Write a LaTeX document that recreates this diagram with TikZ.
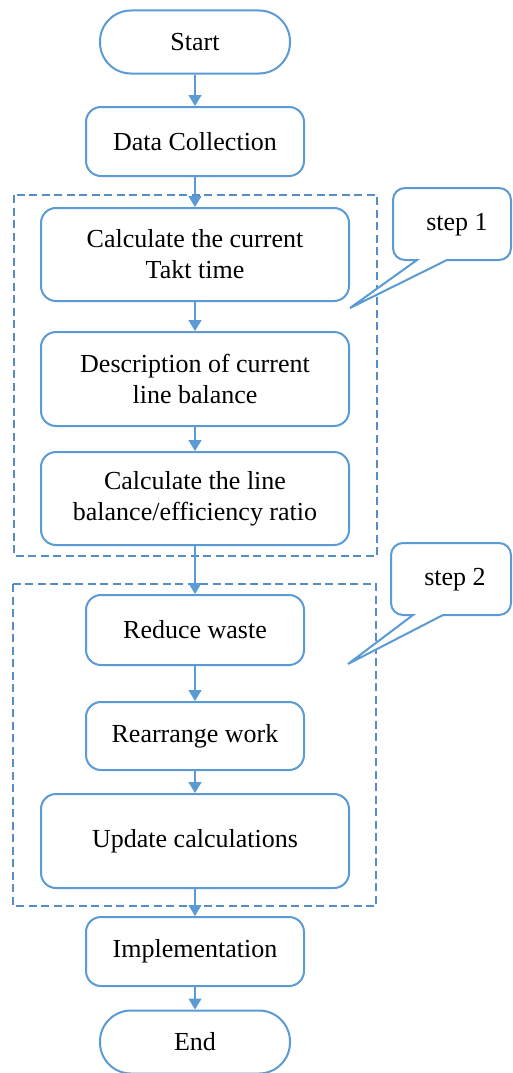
\documentclass[tikz,border=0pt]{standalone}
\usepackage{fontspec}
\setmainfont{Liberation Serif}
\usetikzlibrary{arrows.meta}
\definecolor{boxblue}{RGB}{91,155,213}
\definecolor{dashblue}{RGB}{88,140,196}
\definecolor{linegray}{RGB}{120,150,185}
\begin{document}
\begin{tikzpicture}[x=1pt,y=-1pt,
  font=\fontsize{26}{31}\selectfont,
  proc/.style={draw=boxblue,line width=2pt,rounded corners=15pt,fill=white,align=center,inner sep=0pt},
  term/.style={draw=boxblue,line width=2pt,rounded corners=31pt,fill=white,align=center,inner sep=0pt,minimum width=190pt,minimum height=63pt},
  conn/.style={draw=boxblue,line width=1.3pt,-{Triangle[width=13pt,length=11pt]}},
  group/.style={draw=dashblue,line width=2.3pt,dash pattern=on 8pt off 4.5pt},
  callout/.style={draw=boxblue,line width=2pt,fill=white,line join=miter}]
\useasboundingbox (0,0) rectangle (512,1073);
% dashed groups
\draw[group] (14,195) rectangle (377,556);
\draw[group] (13,584) rectangle (376,906);
% nodes
\node[term] (start) at (195,42) {Start};
\node[proc,minimum width=218pt,minimum height=69pt] (dc) at (195,141.5) {Data Collection};
\node[proc,minimum width=308pt,minimum height=93pt] (takt) at (195,254.5) {Calculate the current\\Takt time};
\node[proc,minimum width=308pt,minimum height=94pt] (desc) at (195,379) {Description of current\\line balance};
\node[proc,minimum width=308pt,minimum height=93pt] (ratio) at (195,498.5) {Calculate the line\\balance/efficiency ratio};
\node[proc,minimum width=218pt,minimum height=70pt] (waste) at (195,630) {Reduce waste};
\node[proc,minimum width=218pt,minimum height=68pt] (rearr) at (195,736) {Rearrange work};
\node[proc,minimum width=308pt,minimum height=94pt] (upd) at (195,841) {Update calculations};
\node[proc,minimum width=218pt,minimum height=69pt] (impl) at (195,951.5) {Implementation};
\node[term] (end) at (195,1042) {End};
% connectors
\draw[conn] (start) -- (dc);
\draw[conn] (dc) -- (takt);
\draw[conn] (takt) -- (desc);
\draw[conn] (desc) -- (ratio);
\draw[conn] (ratio) -- (waste);
\draw[conn] (waste) -- (rearr);
\draw[conn] (rearr) -- (upd);
\draw[conn] (upd) -- (impl);
\draw[conn] (impl) -- (end);
% callout step 1
\draw[callout] (447,260) -- (499,260) arc[start angle=90,end angle=0,radius=12]
  -- (511,200) arc[start angle=0,end angle=-90,radius=12]
  -- (405,188) arc[start angle=-90,end angle=-180,radius=12]
  -- (393,248) arc[start angle=180,end angle=90,radius=12]
  -- (417,260) -- (350,308) -- cycle;
\node (s1) at (457,225) {step 1};
% callout step 2
\draw[callout] (443,615) -- (499,615) arc[start angle=90,end angle=0,radius=12]
  -- (511,555) arc[start angle=0,end angle=-90,radius=12]
  -- (403,543) arc[start angle=-90,end angle=-180,radius=12]
  -- (391,603) arc[start angle=180,end angle=90,radius=12]
  -- (413,615) -- (348,664) -- cycle;
\node (s2) at (455,580) {step 2};
\end{tikzpicture}
\end{document}
